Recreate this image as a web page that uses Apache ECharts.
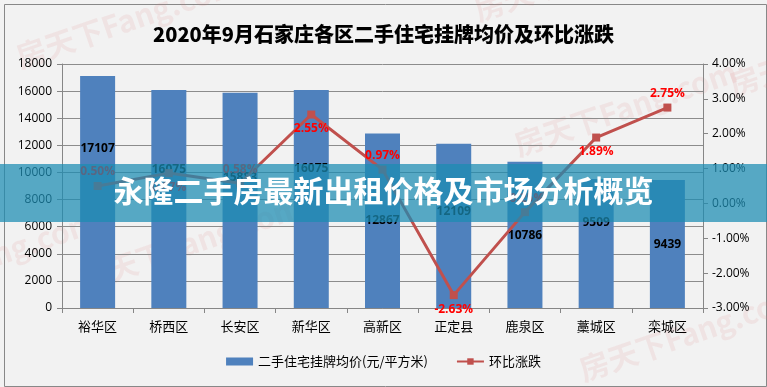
<!DOCTYPE html>
<html>
<head>
<meta charset="utf-8">
<script src="https://cdn.jsdelivr.net/npm/echarts@6/dist/echarts.min.js"></script>
<style>
html,body{margin:0;padding:0;background:#fff;}
#c{width:767px;height:387px;}
</style>
</head>
<body>
<div id="c"></div>
<script>
const titleText = '2020年9月石家庄各区二手住宅挂牌均价及环比涨跌';
const bannerText = '永隆二手房最新出租价格及市场分析概览';
const categories = ['裕华区','桥西区','长安区','新华区','高新区','正定县','鹿泉区','藁城区','栾城区'];
const priceValues = [17107, 16075, 15883, 16075, 12867, 12109, 10786, 9509, 9439];
const changeValues = [0.50, 0.87, 0.58, 2.55, 0.97, -2.63, -0.25, 1.89, 2.75];
const leftTicks = {min: 0, max: 18000, interval: 2000};
const rightTicks = {min: -3, max: 4, interval: 1};
const seriesNames = ['二手住宅挂牌均价(元/平方米)', '环比涨跌'];

// label placement styles (pixels below bar top, and line label sides)
const barLabelDy = [72, 79, 85, 78, 87, 68, 74, 43, 65];
const lineLabelPos = ['top','bottom','top','bottom','top','bottom','top','bottom','top'];

const FONT = '"Noto Sans CJK SC", "Noto Sans", sans-serif';
const chart = echarts.init(document.getElementById('c'), null, {renderer: 'canvas'});

const wm = [
  {x: 22, y: 72}, {x: 85, y: 295}, {x: 520, y: 160}, {x: 585, y: 385},
  {x: 480, y: 25}, {x: 735, y: 100}, {x: -120, y: 310}
].map(p => ({
  type: 'text', x: p.x, y: p.y, rotation: 0.33, z: 0, silent: true,
  style: {text: '房天下Fang.com', font: 'bold 30px ' + FONT, fill: 'rgba(225,120,120,0.12)', textVerticalAlign: 'bottom'}
}));

chart.setOption({
  backgroundColor: '#f2f2f2',
  animation: false,
  textStyle: {fontFamily: FONT},
  title: {
    text: titleText, left: 'center', top: 19,
    textStyle: {fontSize: 20, fontWeight: 900, color: '#000', fontFamily: FONT}
  },
  grid: {left: 62, right: 64, top: 64, bottom: 79, containLabel: false},
  legend: {
    bottom: 14, left: 'center', itemGap: 28,
    textStyle: {fontSize: 13, color: '#000', fontFamily: FONT},
    data: [
      {name: seriesNames[0], icon: 'rect', itemStyle: {color: '#4f81bd'}},
      {name: seriesNames[1]}
    ],
    itemWidth: 27, itemHeight: 8
  },
  xAxis: {
    type: 'category', data: categories,
    axisLine: {lineStyle: {color: '#868686'}},
    axisTick: {show: true, alignWithLabel: false, lineStyle: {color: '#868686'}, length: 5},
    axisLabel: {color: '#000', fontSize: 13, margin: 12, fontFamily: FONT}
  },
  yAxis: [
    {
      type: 'value', min: leftTicks.min, max: leftTicks.max, interval: leftTicks.interval,
      axisLine: {show: true, lineStyle: {color: '#868686'}},
      axisTick: {show: true, lineStyle: {color: '#868686'}, length: 5},
      axisLabel: {color: '#000', fontSize: 12, margin: 10, fontFamily: '"Open Sans", sans-serif',
        formatter: v => String(v)},
      splitLine: {show: true, lineStyle: {color: '#8c8c8c', width: 1}}
    },
    {
      type: 'value', min: rightTicks.min, max: rightTicks.max, interval: rightTicks.interval,
      axisLine: {show: true, lineStyle: {color: '#868686'}},
      axisTick: {show: true, inside: false, lineStyle: {color: '#868686'}, length: 5},
      axisLabel: {color: '#000', fontSize: 12, margin: 9, fontFamily: '"Open Sans", sans-serif',
        formatter: v => v.toFixed(2) + '%'},
      splitLine: {show: false}
    }
  ],
  series: [
    {
      name: seriesNames[0], type: 'bar', yAxisIndex: 0, barWidth: 35,
      itemStyle: {color: '#4f81bd'},
      data: priceValues.map((v, i) => ({
        value: v,
        label: {show: true, position: ['50%', barLabelDy[i]], align: 'center', verticalAlign: 'middle',
          color: '#000', fontWeight: 'bold', fontSize: 12, fontFamily: '"Open Sans", sans-serif'}
      })),
      z: 2
    },
    {
      name: seriesNames[1], type: 'line', yAxisIndex: 1,
      symbol: 'rect', symbolSize: 8,
      lineStyle: {color: '#c0504d', width: 3},
      itemStyle: {color: '#c0504d'},
      data: changeValues.map((v, i) => ({
        value: v,
        label: {show: true, position: lineLabelPos[i], distance: 4, color: '#ff0000', fontSize: 12,
          fontWeight: 'bold', fontFamily: '"Open Sans", sans-serif',
          formatter: p => p.value.toFixed(2) + '%'}
      })),
      z: 3
    }
  ],
  graphic: [
    {type: 'rect', left: 2, top: 2, shape: {width: 762, height: 382}, silent: true, z: -1,
      style: {fill: null, stroke: '#888', lineWidth: 1}},
    ...wm,
    {type: 'rect', left: 0, top: 164, z: 100, silent: true,
      shape: {width: 767, height: 58},
      style: {fill: 'rgba(28,140,178,0.73)'}},
    {type: 'text', left: 'center', top: 176, z: 101, silent: true,
      style: {text: bannerText, font: 'bold 30px ' + FONT, fill: '#fff',
        shadowColor: 'rgba(0,0,0,0.3)', shadowBlur: 3, shadowOffsetX: 1, shadowOffsetY: 1}}
  ]
});
</script>
</body>
</html>
